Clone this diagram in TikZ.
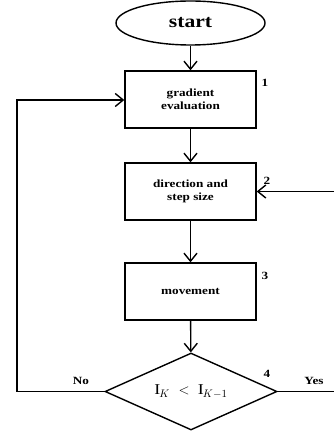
\documentclass[tikz,border=0pt]{standalone}
\usepackage{fontspec}
\setmainfont{Liberation Serif}[FakeStretch=1.2]
\usetikzlibrary{shapes.geometric,arrows.meta}

\tikzset{
	procbox/.style={draw,line width=1.4pt,minimum width=131pt,minimum height=57pt,inner sep=2pt,align=center,font=\bfseries\fontsize{11}{13}\selectfont},
	flowline/.style={line width=1.4pt},
	flowarrow/.style={line width=1.4pt,-{Straight Barb[length=8pt,width=13pt,line width=1.4pt]}},
	stepnum/.style={font=\bfseries\fontsize{11}{13}\selectfont}
}

\begin{document}
\begin{tikzpicture}[x=1pt,y=-1pt]
				\useasboundingbox (0,0) rectangle (334,435);
				% blocks
				\node[draw,ellipse,line width=1.4pt,minimum width=149pt,minimum height=44pt,inner sep=0pt,font=\bfseries\fontsize{18}{20}\selectfont] (start) at (190.5,23) {start};
				\node[procbox] (grad) at (190.5,99.5) {gradient\\evaluation};
				\node[procbox] (dir) at (190.5,191.5) {direction and\\step size};
				\node[procbox] (move) at (190.5,291.5) {movement};
				\node[draw,diamond,line width=1.4pt,aspect=2.23,minimum width=172pt,minimum height=77pt,inner sep=0pt,font=\fontsize{15}{17}\selectfont] (test) at (191,391.5) {$\mathrm{I}_{K}\ <\ \mathrm{I}_{K-1}$};
				% labels
				\node[stepnum] (n1) at (265,83) {1};
				\node[stepnum] (n2) at (267,181) {2};
				\node[stepnum] (n3) at (265,276) {3};
				\node[stepnum] (n4) at (267,374) {4};
				\node[stepnum] (no) at (81,381) {No};
				\node[stepnum] (yes) at (314,381) {Yes};
				% free ends
				\coordinate (loopdown) at (17,391.5);
				\coordinate (loopup) at (17,100);
				\coordinate (yesend) at (334,391.5);
				\coordinate (backin) at (334,191.5);
				% connectors
				\draw[flowarrow] (start) -- (grad);
				\draw[flowarrow] (grad) -- (dir);
				\draw[flowarrow] (dir) -- (move);
				\draw[flowarrow] (move) -- (test);
				\draw[flowarrow] (test.west) -- (loopdown) -- (loopup) -- (grad.west |- loopup);
				\draw[flowline] (test.east) -- (yesend);
				\draw[flowarrow] (backin) -- (dir.east);
		\end{tikzpicture}
\end{document}
